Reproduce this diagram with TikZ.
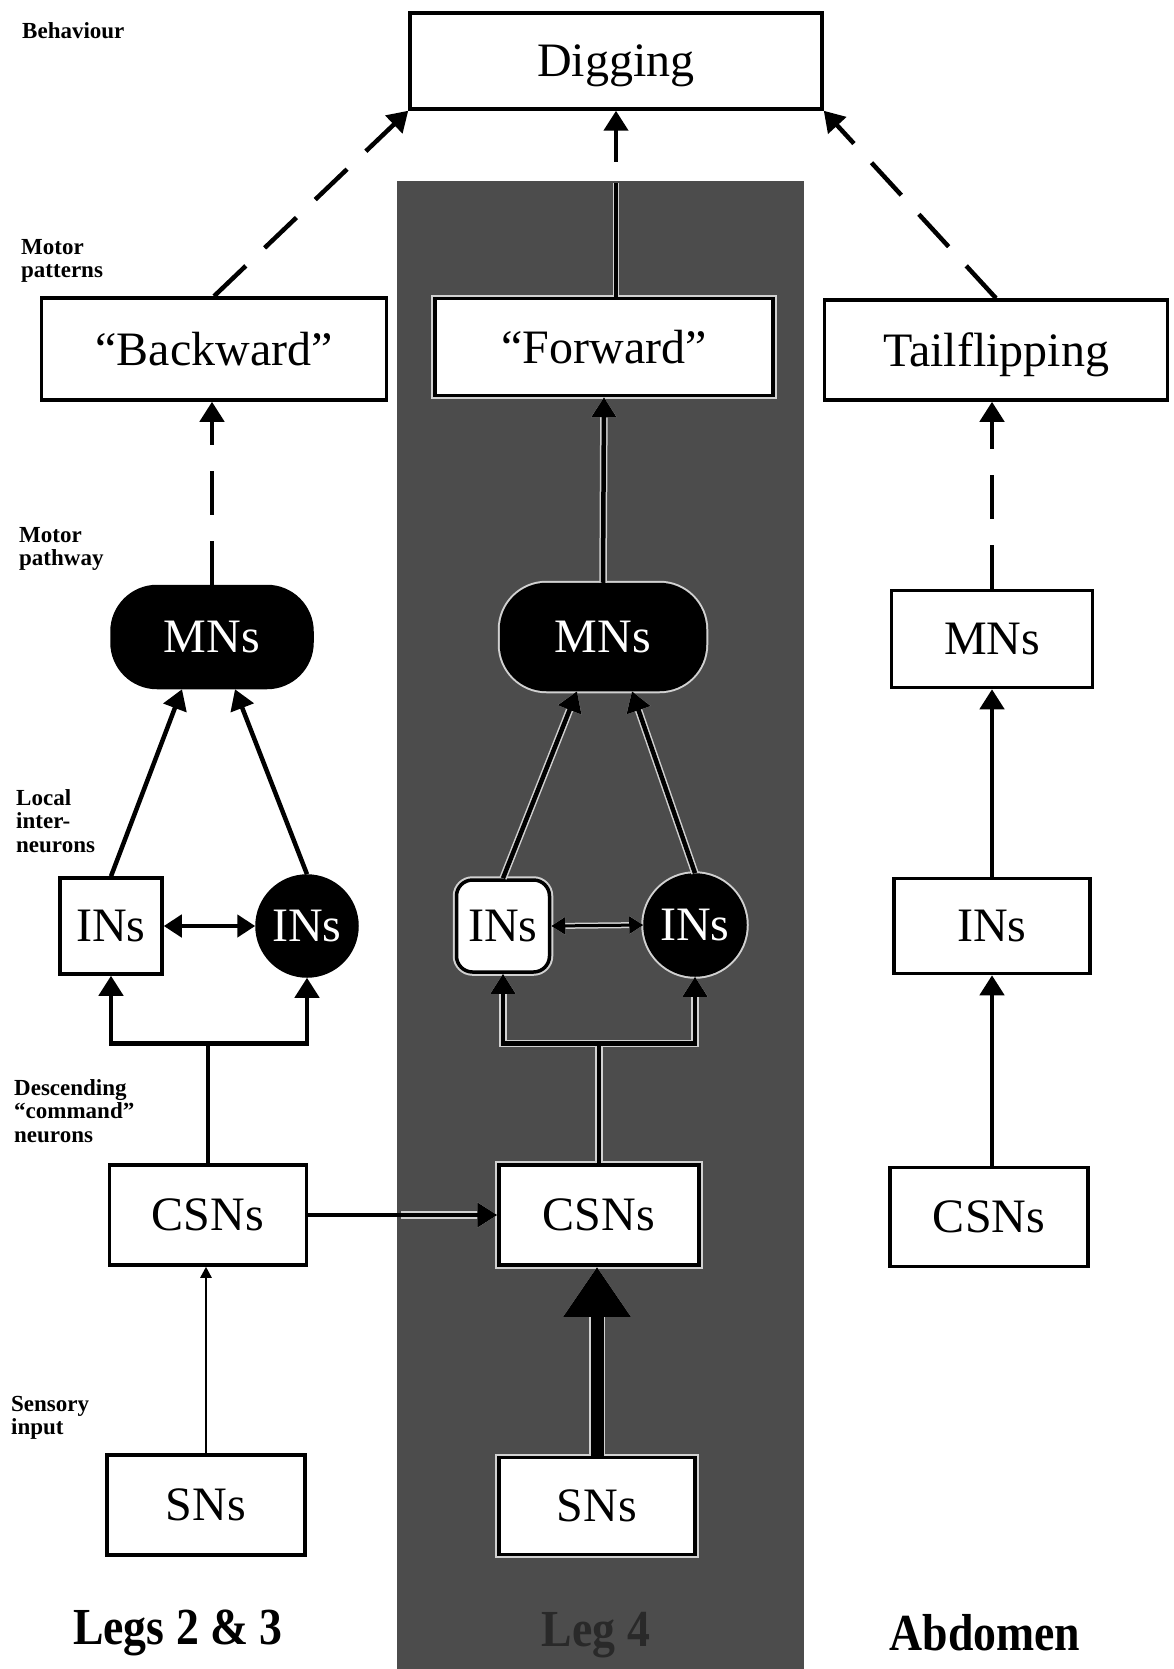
\documentclass[tikz,border=0pt]{standalone}
\usepackage{fontspec}
\usepackage{graphicx}
\setmainfont{Liberation Serif}
\usetikzlibrary{arrows.meta,calc}
\definecolor{bandgray}{gray}{0.30}
\definecolor{legtext}{gray}{0.16}
\definecolor{halocol}{gray}{0.82}
\newcommand\bigtxt{\fontsize{48}{56}\selectfont}
\newcommand\lbltxt{\fontsize{23}{23.5}\selectfont\bfseries}
\newcommand\regtxt{\fontsize{52}{60}\selectfont\bfseries}
\tikzset{
  nbox/.style={draw=black, line width=3.5pt, fill=white, inner sep=0pt, text depth=0pt, font=\bigtxt},
  blk/.style={fill=black, text=white},
  nhalo/.style={preaction={draw=halocol, line width=7.5pt}},
  tipA/.style={-{Triangle[length=20pt,width=24pt]}},
  conn/.style={line width=4.5pt, tipA},
  dconn/.style={conn, dash pattern=on 44pt off 26pt},
  chalo/.style={draw=halocol, line width=7.5pt},
  lbl/.style={font=\lbltxt, align=left, anchor=north west, inner sep=0pt},
  region/.style={font=\regtxt, inner sep=0pt},
}
\begin{document}
\begin{tikzpicture}[x=1pt,y=-1pt]
\useasboundingbox (0,0) rectangle (1173,1669);
% shaded band (Leg 4)
\fill[bandgray] (397,181) rectangle (804,1669);

% side labels
\node[lbl] (lbeh) at (22,22) {Behaviour};
\node[lbl] (lmp) at (21,239) {Motor\\patterns};
\node[lbl] (lmpw) at (19,527) {Motor\\pathway};
\node[lbl] (lli) at (16,789) {Local\\inter-\\neurons};
\node[lbl] (ldc) at (14,1079) {Descending\\“command”\\neurons};
\node[lbl] (lsi) at (11,1396) {Sensory\\input};

% top
\node[nbox, minimum width=412, minimum height=96] (dig) at (616,61) {Digging};

% motor patterns
\node[nbox, minimum width=345, minimum height=102] (bwd) at (214,349) {“Backward”};
\node[nbox, nhalo, minimum width=338, minimum height=97] (fwd) at (604,347) {“Forward”};
\node[nbox, minimum width=343, minimum height=100] (rtf) at (996,350) {Tailflipping};

% motor neurons
\node[nbox, blk, rounded corners=45pt, minimum width=200, minimum height=101] (lmn) at (212,637) {MNs};
\node[nbox, blk, nhalo, rounded corners=45pt, minimum width=203, minimum height=105] (mmn) at (603,637) {MNs};
\node[nbox, minimum width=201, minimum height=97] (rmn) at (992,639) {MNs};

% interneurons
\node[nbox, minimum width=102, minimum height=96] (lin) at (111,926) {INs};
\node[nbox, blk, circle, minimum size=100] (lic) at (307,926) {INs};
\node[nbox, nhalo, rounded corners=16pt, minimum width=93, minimum height=92] (min) at (503,926) {INs};
\node[nbox, blk, nhalo, circle, minimum size=100] (mic) at (695,925) {INs};
\node[nbox, minimum width=196, minimum height=95] (rin) at (992,926) {INs};

% command neurons
\node[nbox, minimum width=197, minimum height=100] (lcs) at (208,1215) {CSNs};
\node[nbox, nhalo, minimum width=200, minimum height=100] (mcs) at (599,1215) {CSNs};
\node[nbox, minimum width=198, minimum height=99] (rcs) at (989,1217) {CSNs};

% sensory neurons
\node[nbox, minimum width=198, minimum height=100] (lsn) at (206,1505) {SNs};
\node[nbox, nhalo, minimum width=196, minimum height=97] (msn) at (597,1506) {SNs};

% region labels
\node[region] (rlegs) at (178,1633) {\scalebox{0.88}[1]{Legs 2 \& 3}};
\node[region, text=legtext] (rleg4) at (596,1635) {\scalebox{0.88}[1]{Leg 4}};
\node[region] (rabd) at (985,1633) {\scalebox{0.88}[1]{Abdomen}};

% ---------- connectors: left column ----------
\draw[dconn] (bwd.north) -- (dig.south west);
\draw[dconn] (lmn.north) -- (lmn.north |- bwd.south);
\draw[conn] (lin.north) -- ($(lmn.south)+(-30,0)$);
\draw[conn] (lic.north) -- ($(lmn.south)+(23,0)$);
\draw[line width=4.5pt, {Triangle[length=18pt,width=22pt]}-{Triangle[length=18pt,width=22pt]}] (lin.east) -- (lic.west);
\coordinate (lfork) at ($(lcs.north)+(0,-120)$);
\draw[conn] (lcs.north) -- (lfork) -| (lin.south);
\draw[conn] (lfork) -| (lic.south);
\draw[line width=2.5pt, -{Triangle[length=11pt,width=11pt]}] (lsn.north) -- (lsn.north |- lcs.south);

% ---------- connectors: right column ----------
\draw[dconn] (rtf.north) -- (dig.south east);
\draw[dconn] (rmn.north) -- (rmn.north |- rtf.south);
\draw[conn] (rin.north) -- (rmn.south);
\draw[conn] (rin.south |- rcs.north) -- (rin.south);

% ---------- connectors: middle column (with halo) ----------
\coordinate (ftop) at ($(dig.south)+(0,72)$);
\draw[conn] ($(ftop)+(0,-21)$) -- (dig.south);
% halo pass
\draw[chalo, line width=6.5pt] (fwd.north -| ftop) -- (ftop);
\draw[chalo, tipA] (mmn.north) -- (fwd.south);
\draw[chalo, tipA] (min.north) -- ($(mmn.south)+(-26,0)$);
\draw[chalo, tipA] (mic.north) -- ($(mmn.south)+(29,0)$);
\draw[chalo, line width=6pt, {Triangle[length=14pt,width=17pt]}-{Triangle[length=14pt,width=17pt]}] (min.east) -- (mic.west);
\coordinate (mfork) at ($(mcs.north)+(0,-120)$);
\draw[chalo, tipA] (mcs.north) -- (mfork) -| (min.south);
\draw[chalo, tipA] (mfork) -| (mic.south);
\draw[chalo, tipA] (401,1215) -- (lcs.east -| mcs.west);
\draw[chalo, line width=16pt, -{Triangle[length=50pt,width=64pt]}] (msn.north) -- (msn.north |- mcs.south);
% black pass
\draw[line width=3.5pt] (fwd.north -| ftop) -- (ftop);
\draw[conn] (mmn.north) -- (fwd.south);
\draw[conn] (min.north) -- ($(mmn.south)+(-26,0)$);
\draw[conn] (mic.north) -- ($(mmn.south)+(29,0)$);
\draw[line width=3pt, {Triangle[length=14pt,width=17pt]}-{Triangle[length=14pt,width=17pt]}] (min.east) -- (mic.west);
\draw[conn] (mcs.north) -- (mfork) -| (min.south);
\draw[conn] (mfork) -| (mic.south);
\draw[conn] (lcs.east) -- (lcs.east -| mcs.west);
\draw[line width=13pt, -{Triangle[length=50pt,width=64pt]}] (msn.north) -- (msn.north |- mcs.south);
\end{tikzpicture}
\end{document}
